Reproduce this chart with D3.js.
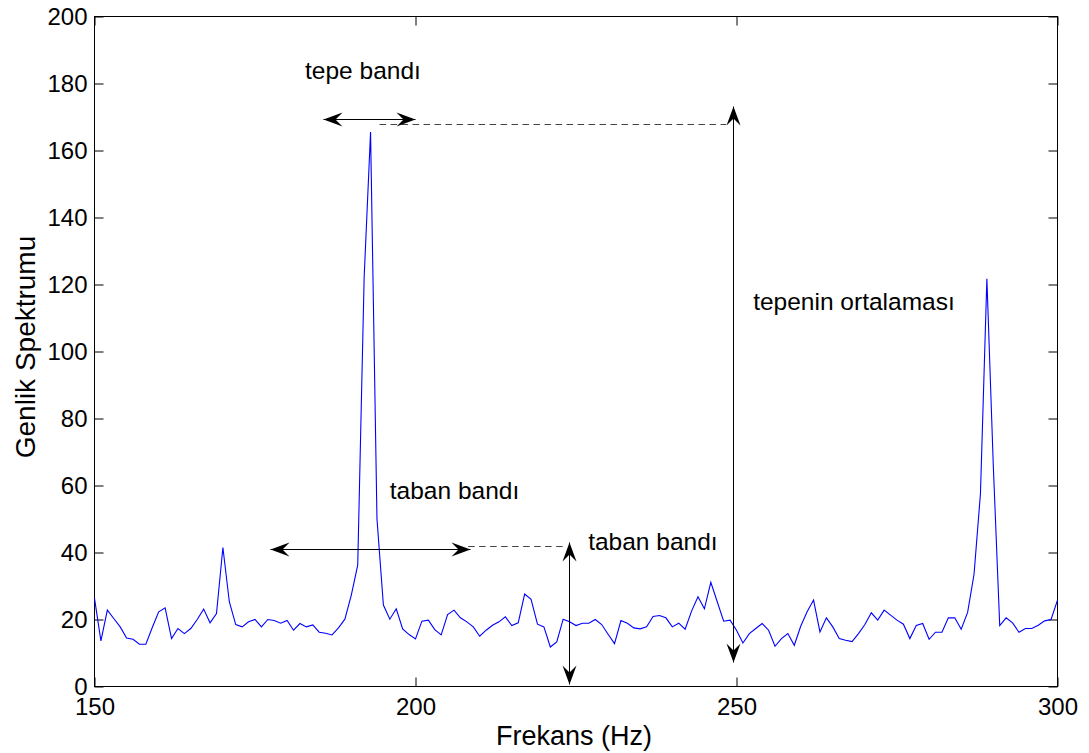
<!DOCTYPE html>
<html>
<head>
<meta charset="utf-8">
<script src="https://cdn.jsdelivr.net/npm/d3@7"></script>
<style>
  body { margin: 0; background: #fff; }
  svg { font-family: Arial, "Liberation Sans", Helvetica, sans-serif; }
</style>
</head>
<body>
<svg id="chart" width="1089" height="753"></svg>
<script>
// spectrum samples, 1 Hz apart
const freqStart = 150;
const amplitude = [
  26.3, 13.6, 22.8, 20.3, 17.8, 14.5, 14.1, 12.6, 12.6, 17.6,
  22.3, 23.5, 14.3, 17.3, 15.8, 17.3, 20.0, 23.1, 19.0, 21.8,
  41.5, 25.3, 18.5, 17.8, 19.3, 20.0, 17.8, 20.0, 19.7, 18.9,
  19.7, 16.8, 18.8, 17.8, 18.4, 16.2, 15.9, 15.4, 17.5, 20.1,
  27.3, 36.2, 122.0, 165.5, 50.0, 24.3, 20.1, 23.2, 17.2, 15.5,
  14.2, 19.5, 19.8, 17.0, 15.4, 21.5, 22.8, 20.5, 19.3, 17.8,
  15.0, 16.8, 18.3, 19.3, 20.8, 18.2, 19.0, 27.6, 26.0, 18.6,
  17.8, 11.8, 13.3, 20.1, 19.3, 18.2, 18.9, 18.9, 20.0, 18.5,
  15.6, 12.8, 19.7, 18.9, 17.5, 17.2, 17.8, 20.9, 21.2, 20.5,
  17.8, 18.9, 17.1, 22.5, 26.8, 23.2, 31.1, 25.3, 19.5, 19.8,
  16.8, 13.0, 15.8, 17.3, 18.8, 16.8, 12.0, 14.3, 15.8, 12.3,
  18.0, 22.3, 25.8, 16.3, 20.5, 17.8, 14.3, 13.8, 13.4, 15.8,
  18.5, 22.0, 19.8, 22.8, 21.3, 19.8, 18.6, 14.3, 18.2, 18.8,
  14.1, 16.2, 16.2, 20.5, 20.5, 17.1, 22.1, 33.5, 57.6, 121.7,
  66.0, 18.2, 20.5, 19.0, 16.2, 17.3, 17.3, 18.3, 19.6, 20.0,
  25.8
];
const xTicks = [150, 200, 250, 300];
const yTicks = [0, 20, 40, 60, 80, 100, 120, 140, 160, 180, 200];

// annotation arrows (data units), both ends get a head
const arrows = [
  { x1: 185.6, y1: 169.5, x2: 199.9, y2: 169.5 },
  { x1: 177.3, y1: 41.0,  x2: 208.5, y2: 41.0 },
  { x1: 249.5, y1: 173.2, x2: 249.5, y2: 7.3 },
  { x1: 223.9, y1: 43.1,  x2: 223.9, y2: 0.6 }
];
const guides = [
  { x1: 194.4, x2: 248.4, y: 167.9 },
  { x1: 208.2, x2: 223.3, y: 41.9 }
];
const notes = [
  { text: "tepe bandı",         x: 182.8, y: 181.4 },
  { text: "tepenin ortalaması", x: 252.6, y: 112.4 },
  { text: "taban bandı",        x: 196.0, y: 55.9 },
  { text: "taban bandı",        x: 226.9, y: 40.6 }
];

const svg = d3.select("#chart");
const m = { left: 94.5, right: 1057.5, top: 16.5, bottom: 686.5 };

const x = d3.scaleLinear().domain([150, 300]).range([m.left, m.right]);
const y = d3.scaleLinear().domain([0, 200]).range([m.bottom, m.top]);

const tickLen = 9;

// frame
svg.append("rect")
  .attr("x", m.left).attr("y", m.top)
  .attr("width", m.right - m.left).attr("height", m.bottom - m.top)
  .attr("fill", "none").attr("stroke", "#000").attr("stroke-width", 1);

// axes with inward ticks, mirrored on top/right
svg.append("g")
  .attr("transform", `translate(0,${m.bottom})`)
  .call(d3.axisBottom(x).tickValues(xTicks).tickSizeInner(-tickLen).tickSizeOuter(0).tickPadding(11));
svg.append("g")
  .attr("transform", `translate(${m.left},0)`)
  .call(d3.axisLeft(y).tickValues(yTicks).tickSizeInner(-tickLen).tickSizeOuter(0).tickPadding(7));
svg.append("g")
  .attr("transform", `translate(0,${m.top})`)
  .call(d3.axisTop(x).tickValues(xTicks).tickSizeInner(-tickLen).tickSizeOuter(0).tickFormat(""));
svg.append("g")
  .attr("transform", `translate(${m.right},0)`)
  .call(d3.axisRight(y).tickValues(yTicks).tickSizeInner(-tickLen).tickSizeOuter(0).tickFormat(""));

svg.selectAll(".domain").remove();
svg.selectAll(".tick line").attr("stroke", "#000");
svg.selectAll(".tick text")
  .attr("fill", "#000")
  .style("font-size", "24px")
  .style("font-family", "Arial, 'Liberation Sans', sans-serif");

// spectrum line
const line = d3.line()
  .x((d, i) => x(freqStart + i))
  .y(d => y(d));

svg.append("path")
  .datum(amplitude)
  .attr("fill", "none")
  .attr("stroke", "#0000ff")
  .attr("stroke-width", 1.1)
  .attr("d", line);

// dashed guides
svg.append("g").selectAll("line")
  .data(guides)
  .join("line")
  .attr("x1", d => x(d.x1)).attr("x2", d => x(d.x2))
  .attr("y1", d => Math.round(y(d.y)) + 0.5).attr("y2", d => Math.round(y(d.y)) + 0.5)
  .attr("stroke", "#444")
  .attr("stroke-width", 1)
  .attr("stroke-dasharray", "6.5,4.5");

// double-headed arrows
function head(px, py, ang) {
  const L = 19, W = 14, back = 12;
  const pts = [[0, 0], [-L, -W / 2], [-back, 0], [-L, W / 2]];
  const c = Math.cos(ang), s = Math.sin(ang);
  return pts.map(([a, b]) => [px + a * c - b * s, py + a * s + b * c]);
}

const ag = svg.append("g");
arrows.forEach(a => {
  const x1 = Math.round(x(a.x1)) + 0.5, y1 = Math.round(y(a.y1)) + 0.5;
  const x2 = Math.round(x(a.x2)) + 0.5, y2 = Math.round(y(a.y2)) + 0.5;
  ag.append("line")
    .attr("x1", x1).attr("y1", y1).attr("x2", x2).attr("y2", y2)
    .attr("stroke", "#000").attr("stroke-width", 1);
  const ang = Math.atan2(y2 - y1, x2 - x1);
  ag.append("polygon")
    .attr("points", head(x2, y2, ang).join(" "))
    .attr("fill", "#000");
  ag.append("polygon")
    .attr("points", head(x1, y1, ang + Math.PI).join(" "))
    .attr("fill", "#000");
});

// annotation text
svg.append("g").selectAll("text")
  .data(notes)
  .join("text")
  .attr("x", d => x(d.x))
  .attr("y", d => y(d.y))
  .style("font-size", "24.5px")
  .attr("fill", "#000")
  .text(d => d.text);

// axis titles
svg.append("text")
  .attr("x", 574)
  .attr("y", 745)
  .attr("text-anchor", "middle")
  .style("font-size", "27px")
  .text("Frekans (Hz)");

svg.append("text")
  .attr("transform", `translate(35,347) rotate(-90)`)
  .attr("text-anchor", "middle")
  .style("font-size", "28px")
  .text("Genlik Spektrumu");
</script>
</body>
</html>
